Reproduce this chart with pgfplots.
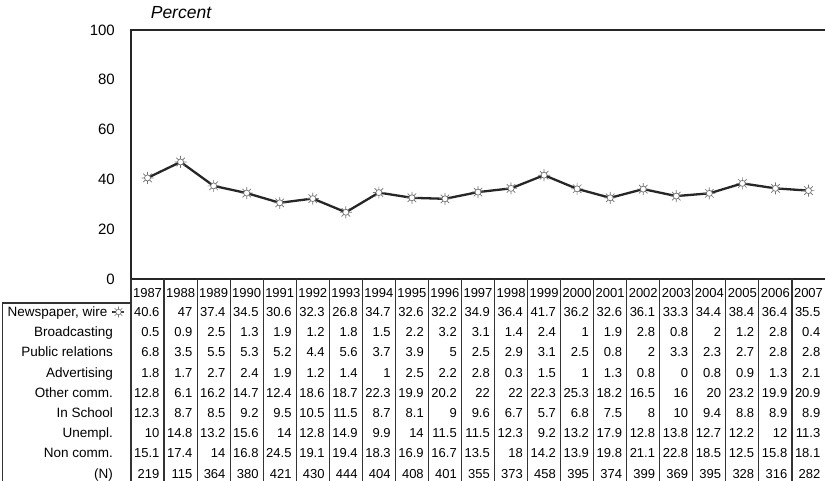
\documentclass[border=0pt]{standalone}
\usepackage{pgfplots}
\pgfplotsset{compat=1.18}
\usepackage{pgfplotstable}
\usepackage{fontspec}
\setmainfont{Liberation Sans}

\newcommand\tabfont{\fontsize{13}{15}\selectfont}
\newcommand\labfont{\fontsize{13.5}{16}\selectfont}

\pgfdeclareplotmark{sun}{%
  \pgfpathcircle{\pgfpointorigin}{3pt}%
  \pgfusepathqfillstroke
  \pgfpathmoveto{\pgfpointpolar{0}{3pt}}\pgfpathlineto{\pgfpointpolar{0}{6pt}}%
  \pgfpathmoveto{\pgfpointpolar{45}{3pt}}\pgfpathlineto{\pgfpointpolar{45}{6pt}}%
  \pgfpathmoveto{\pgfpointpolar{90}{3pt}}\pgfpathlineto{\pgfpointpolar{90}{6pt}}%
  \pgfpathmoveto{\pgfpointpolar{135}{3pt}}\pgfpathlineto{\pgfpointpolar{135}{6pt}}%
  \pgfpathmoveto{\pgfpointpolar{180}{3pt}}\pgfpathlineto{\pgfpointpolar{180}{6pt}}%
  \pgfpathmoveto{\pgfpointpolar{225}{3pt}}\pgfpathlineto{\pgfpointpolar{225}{6pt}}%
  \pgfpathmoveto{\pgfpointpolar{270}{3pt}}\pgfpathlineto{\pgfpointpolar{270}{6pt}}%
  \pgfpathmoveto{\pgfpointpolar{315}{3pt}}\pgfpathlineto{\pgfpointpolar{315}{6pt}}%
  \pgfusepathqstroke
}

\pgfplotstableread{
i year nw bc pr ad oc sc un nc n
0 1987 40.6 0.5 6.8 1.8 12.8 12.3 10 15.1 219
1 1988 47 0.9 3.5 1.7 6.1 8.7 14.8 17.4 115
2 1989 37.4 2.5 5.5 2.7 16.2 8.5 13.2 14 364
3 1990 34.5 1.3 5.3 2.4 14.7 9.2 15.6 16.8 380
4 1991 30.6 1.9 5.2 1.9 12.4 9.5 14 24.5 421
5 1992 32.3 1.2 4.4 1.2 18.6 10.5 12.8 19.1 430
6 1993 26.8 1.8 5.6 1.4 18.7 11.5 14.9 19.4 444
7 1994 34.7 1.5 3.7 1 22.3 8.7 9.9 18.3 404
8 1995 32.6 2.2 3.9 2.5 19.9 8.1 14 16.9 408
9 1996 32.2 3.2 5 2.2 20.2 9 11.5 16.7 401
10 1997 34.9 3.1 2.5 2.8 22 9.6 11.5 13.5 355
11 1998 36.4 1.4 2.9 0.3 22 6.7 12.3 18 373
12 1999 41.7 2.4 3.1 1.5 22.3 5.7 9.2 14.2 458
13 2000 36.2 1 2.5 1 25.3 6.8 13.2 13.9 395
14 2001 32.6 1.9 0.8 1.3 18.2 7.5 17.9 19.8 374
15 2002 36.1 2.8 2 0.8 16.5 8 12.8 21.1 399
16 2003 33.3 0.8 3.3 0 16 10 13.8 22.8 369
17 2004 34.4 2 2.3 0.8 20 9.4 12.7 18.5 395
18 2005 38.4 1.2 2.7 0.9 23.2 8.8 12.2 12.5 328
19 2006 36.4 2.8 2.8 1.3 19.9 8.9 12 15.8 316
20 2007 35.5 0.4 2.8 2.1 20.9 8.9 11.3 18.1 282
}\tab

\begin{document}
\begin{tikzpicture}
\path[use as bounding box] (-131pt,-202pt) rectangle (694pt,279pt);
\begin{axis}[
  at={(0pt,0pt)}, anchor=south west,
  scale only axis, width=694pt, height=249pt,
  xmin=-0.5, xmax=20.5, ymin=0, ymax=100,
  ytick={0,20,...,100}, xtick=\empty,
  axis line style={draw=none},
  major tick length=0pt,
  /pgf/number format/assume math mode=true,
  yticklabel style={font=\fontsize{15}{18}\selectfont, anchor=east, inner sep=0pt, xshift=-16pt},
  clip=false,
]
\draw[line width=2pt, black!85] (rel axis cs:0,0) -- (rel axis cs:0,1) -- (rel axis cs:1,1);
\draw[line width=2pt, black!85] (rel axis cs:0,0) -- (rel axis cs:1,0);
\addplot[line width=2.3pt, black!85, mark=sun,
  mark options={solid, fill=white, draw=black!55, line width=0.7pt}]
  table[x=i, y=nw]{\tab};
\end{axis}
\node[font=\fontsize{17.5}{20}\selectfont\itshape] at (50pt,266pt) {Percent};
% table grid
\foreach \k in {0,...,20}{
  \draw[line width=1.1pt, black!80] ({\k*694/21*1pt},0pt) -- ({\k*694/21*1pt},-202pt);
}
\draw[line width=1.1pt, black!80] (-128.5pt,-202pt) -- (-128.5pt,-24pt) -- (0pt,-24pt);
% years and values
\foreach \i in {0,...,20}{
  \pgfmathsetmacro\xc{(\i+0.5)*694/21}
  \pgfmathsetmacro\xr{(\i+1)*694/21-4.5}
  \pgfplotstablegetelem{\i}{year}\of\tab
  \node[font=\tabfont, inner sep=0pt, anchor=base] at (\xc pt,-18.6pt) {\pgfplotsretval};
  \foreach \c [count=\r from 0] in {nw,bc,pr,ad,oc,sc,un,nc,n}{
    \pgfmathsetmacro\yy{-37.6-20.2*\r}
    \pgfplotstablegetelem{\i}{\c}\of\tab
    \node[font=\tabfont, inner sep=0pt, anchor=base east] at (\xr pt,\yy pt) {\pgfplotsretval};
  }
}
% row labels
\node[font=\labfont, inner sep=0pt, anchor=base east] at (-23.5pt,-37.6pt) {Newspaper, wire};
\draw[line width=1.2pt, black!85] (-18.5pt,-33pt) -- (-6.5pt,-33pt);
\begin{scope}[shift={(-12.5pt,-33pt)}, scale=0.9]
  \pgfsetlinewidth{0.6pt}\pgfsetfillcolor{white}\pgfsetstrokecolor{black!55}
  \pgfuseplotmark{sun}
\end{scope}
\foreach \lab [count=\r from 1] in {Broadcasting,Public relations,Advertising,Other comm.,In School,Unempl.,Non comm.,(N)}{
  \pgfmathsetmacro\yy{-37.6-20.2*\r}
  \node[font=\labfont, inner sep=0pt, anchor=base east] at (-18pt,\yy pt) {\lab};
}
\end{tikzpicture}
\end{document}
